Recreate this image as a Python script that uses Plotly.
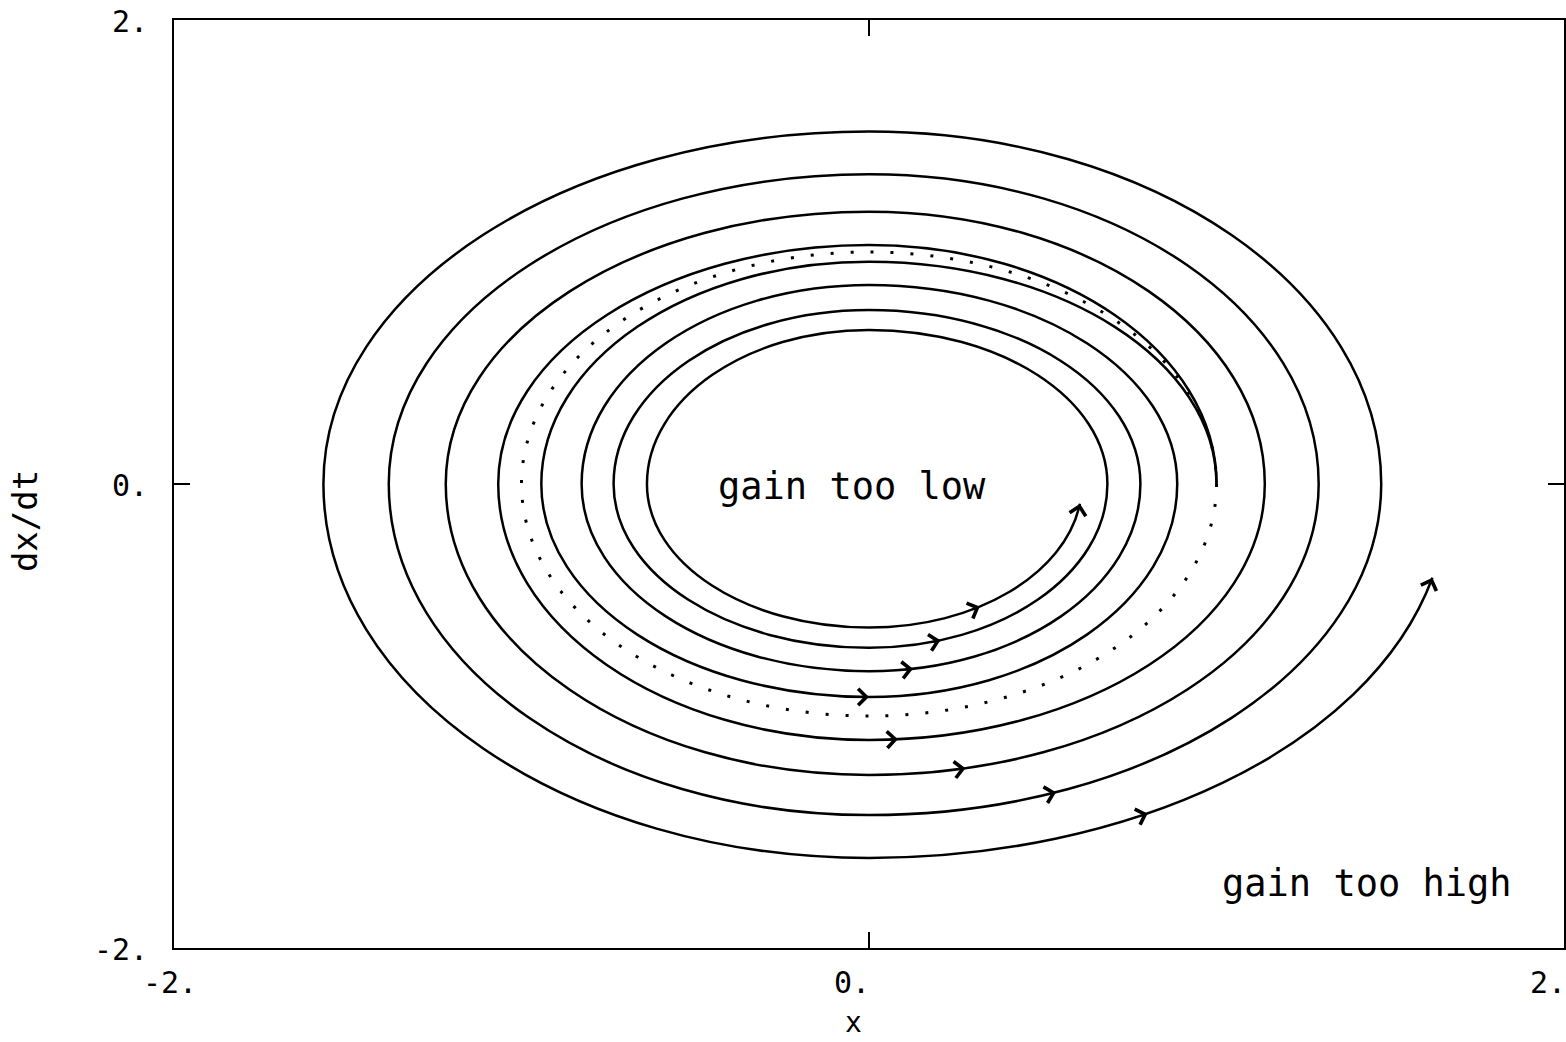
import numpy as np
import plotly.graph_objects as go

# Phase-plane trajectories (x, dx/dt), both leaving x = 1, dx/dt = 0 and turning
# counter-clockwise. Amplitudes at each quarter turn of phase (0, 90, 180, ... deg):
# where the trajectory crosses +x, +dx/dt, -x, -dx/dt, +x, ...
amp_gain_high = [1.000, 1.030, 1.067, 1.103,
                 1.139, 1.174, 1.218, 1.254,
                 1.294, 1.335, 1.382, 1.427,
                 1.474, 1.519, 1.570, 1.612]
end_gain_high = dict(phase=1426, amp=1.671)

amp_gain_low = [1.000, 0.958, 0.943, 0.918,
                0.887, 0.858, 0.827, 0.807,
                0.781, 0.750, 0.735, 0.706,
                0.686, 0.664, 0.639, 0.619]
end_gain_low = dict(phase=1432, amp=0.613)

# Steady oscillation (correct gain): the dotted limit cycle
limit_cycle_amp = 1.0

# Phase (deg) at which a direction arrow sits on each trajectory
arrows_gain_high = [274, 642, 1011, 1379]
arrows_gain_low = [270, 639, 1007, 1381]

tick_vals = [-2, 0, 2]
x_tick_text = ["-2.", "0.", "2."]
y_tick_text = ["-2.", "0.", "2."]

FONT = "DejaVu Sans Mono"
INK = "black"
KAPPA = 0.5523  # cubic Bezier constant for a quarter ellipse


def unit(deg):
    a = np.deg2rad(deg)
    return np.array([np.cos(a), np.sin(a)])


def fmt(p):
    return f"{p[0]:.4f},{p[1]:.4f}"


def segments(amps, end):
    """Cubic Bezier segments (p0, c1, c2, p1, phase0, phase1) of a trajectory."""
    segs = []
    pts = [amps[k] * unit(90 * k) for k in range(len(amps))]
    for k in range(len(pts) - 1):
        p0, p1 = pts[k], pts[k + 1]
        segs.append((p0, p0 + KAPPA * p1, p1 + KAPPA * p0, p1, 90 * k, 90 * (k + 1)))
    # last partial turn up to the end of the trajectory
    th0 = 90 * (len(amps) - 1)
    dth = end["phase"] - th0
    kk = 4.0 / 3.0 * np.tan(np.deg2rad(dth) / 4)
    p0 = pts[-1]
    pe = end["amp"] * unit(end["phase"])
    c1 = p0 + kk * amps[-1] * unit(th0 + 90)
    c2 = pe - kk * end["amp"] * unit(end["phase"] + 90)
    segs.append((p0, c1, c2, pe, th0, end["phase"]))
    return segs


def spiral_path(segs):
    d = "M" + fmt(segs[0][0])
    for p0, c1, c2, p1, _, _ in segs:
        d += " C" + fmt(c1) + " " + fmt(c2) + " " + fmt(p1)
    return d


def point_on(segs, phase):
    """Position and heading on the drawn trajectory at a given phase."""
    for p0, c1, c2, p1, a0, a1 in segs:
        if a0 <= phase <= a1:
            t = (phase - a0) / (a1 - a0)
            s = 1 - t
            pos = s**3 * p0 + 3 * s**2 * t * c1 + 3 * s * t**2 * c2 + t**3 * p1
            der = 3 * s**2 * (c1 - p0) + 6 * s * t * (c2 - c1) + 3 * t**2 * (p1 - c2)
            return pos, der / np.linalg.norm(der)
    raise ValueError(phase)


fig = go.Figure()

traj = []
for amps, end, phases in [(amp_gain_high, end_gain_high, arrows_gain_high),
                          (amp_gain_low, end_gain_low, arrows_gain_low)]:
    segs = segments(amps, end)
    traj.append((segs, phases + [end["phase"]]))
    fig.add_shape(type="path", xref="x", yref="y", path=spiral_path(segs),
                  line=dict(color=INK, width=2.5), fillcolor="rgba(0,0,0,0)")

fig.add_shape(type="circle", xref="x", yref="y",
              x0=-limit_cycle_amp, x1=limit_cycle_amp,
              y0=-limit_cycle_amp, y1=limit_cycle_amp,
              line=dict(color=INK, width=3, dash="3px,17px"))


def arrow(pos, tan, back=0.03):
    fig.add_annotation(x=pos[0], y=pos[1],
                       ax=pos[0] - back * tan[0], ay=pos[1] - back * tan[1],
                       xref="x", yref="y", axref="x", ayref="y", text="",
                       showarrow=True, arrowhead=4, arrowsize=2.0, arrowwidth=1.6,
                       arrowcolor=INK, standoff=0)


for segs, phases in traj:
    for ph in phases:
        arrow(*point_on(segs, ph))

# Tick labels
x_shift = [-4, -17, -16]
for v, t, s in zip(tick_vals, x_tick_text, x_shift):
    fig.add_annotation(x=v, y=0, xref="x", yref="paper", text=t, showarrow=False,
                       xanchor="center", yanchor="middle", xshift=s, yshift=-34,
                       font=dict(family=FONT, size=30, color=INK))
for v, t in zip(tick_vals, y_tick_text):
    fig.add_annotation(x=0, y=v, xref="paper", yref="y", text=t, showarrow=False,
                       xanchor="right", yanchor="middle", xshift=-24, yshift=-1,
                       font=dict(family=FONT, size=30, color=INK))

# Axis titles
fig.add_annotation(x=0, y=0, xref="x", yref="paper", text="x", showarrow=False,
                   xanchor="center", yanchor="middle", xshift=-16, yshift=-74,
                   font=dict(family=FONT, size=28, color=INK))
fig.add_annotation(x=0, y=-0.16, xref="paper", yref="y", text="dx/dt", showarrow=False,
                   textangle=-90, xanchor="center", yanchor="middle", xshift=-149,
                   font=dict(family=FONT, size=34, color=INK))

# Region labels
fig.add_annotation(x=-0.049, y=-0.01, xref="x", yref="y", text="gain too low",
                   showarrow=False, xanchor="center", yanchor="middle",
                   font=dict(family=FONT, size=37, color=INK))
fig.add_annotation(x=1.432, y=-1.72, xref="x", yref="y", text="gain too high",
                   showarrow=False, xanchor="center", yanchor="middle",
                   font=dict(family=FONT, size=37, color=INK))

axis_common = dict(range=[-2, 2], showgrid=False, zeroline=False,
                   showline=True, linecolor=INK, linewidth=2, mirror="ticks",
                   tickvals=[0], ticks="inside", ticklen=16, tickwidth=2,
                   tickcolor=INK, showticklabels=False)

fig.update_layout(
    width=1566, height=1042,
    margin=dict(l=174, r=0, t=20, b=94),
    paper_bgcolor="white", plot_bgcolor="white",
    xaxis=axis_common, yaxis=axis_common,
    showlegend=False,
)

fig.write_html("out.html")
